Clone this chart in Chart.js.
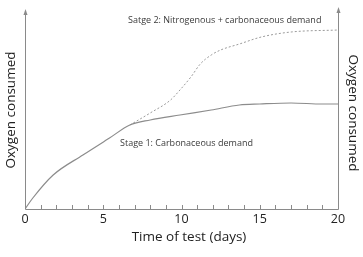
<!DOCTYPE html>
<html>
<head>
<meta charset="utf-8">
<script src="https://cdn.jsdelivr.net/npm/chart.js@4.4.1/dist/chart.umd.min.js"></script>
<style>
	html, body { margin: 0; padding: 0; background: #fff; }
	#wrap { width: 363px; height: 257px; position: relative; }
</style>
</head>
<body>
<div id="wrap"><canvas id="c"></canvas></div>
<script>
// days and oxygen consumed (arbitrary units)
var stage1Days = [0, 0.5, 1.8, 3.7, 5.4, 6.7, 8, 9.9, 11.9, 13.7, 15, 17, 19, 20];
var stage1Oxygen = [0, 11, 34, 54, 71, 84, 89, 94, 99, 104, 105, 106, 105, 105];

var stage2Days = [6.7, 8, 9.3, 9.9, 10.6, 11.2, 11.9, 12.5, 13.7, 15.1, 17, 20];
var stage2Oxygen = [84, 96, 109, 119, 132, 145, 154, 159, 165, 172, 177, 179];

var xTickLabels = [0, 5, 10, 15, 20];
var stage1Label = 'Stage 1: Carbonaceous demand';
var stage2Label = 'Satge 2: Nitrogenous + carbonaceous demand';
var xTitle = 'Time of test (days)';
var yTitle = 'Oxygen consumed';

var toPoints = function(xs, ys){
	var pts = [];
	for (var i = 0; i < xs.length; i++) {
		pts.push({x: xs[i], y: ys[i]});
	};
	return pts;
}

var FONT = '"Open Sans", "DejaVu Sans", sans-serif';
var AXIS = '#8a8a8a';
var TEXT = '#3a3a3a';

var axesPlugin = {
	id: 'axesPlugin',
	afterDraw: function(chart){
		var ctx = chart.ctx;
		var xs = chart.scales.x, ys = chart.scales.y;
		var left = xs.getPixelForValue(0);
		var right = xs.getPixelForValue(20);
		var bottom = ys.getPixelForValue(0);
		var top = ys.getPixelForValue(197);

		ctx.save();
		ctx.strokeStyle = AXIS;
		ctx.fillStyle = AXIS;
		ctx.lineWidth = 1;

		// axis lines
		ctx.beginPath();
		ctx.moveTo(left + 0.5, top);
		ctx.lineTo(left + 0.5, bottom + 0.5);
		ctx.lineTo(right + 0.5, bottom + 0.5);
		ctx.lineTo(right + 0.5, top - 2);
		ctx.stroke();

		// arrow heads
		var arrow = function(x, y){
			ctx.beginPath();
			ctx.moveTo(x + 0.5, y - 3);
			ctx.lineTo(x - 1.5, y + 3);
			ctx.lineTo(x + 2.5, y + 3);
			ctx.closePath();
			ctx.fill();
		}
		arrow(left, top);
		arrow(right, top - 2);

		// minor ticks pointing inward
		ctx.beginPath();
		for (var d = 1; d < 20; d++) {
			var px = Math.round(xs.getPixelForValue(d)) + 0.5;
			ctx.moveTo(px, bottom);
			ctx.lineTo(px, bottom - 4);
		};
		ctx.stroke();

		// tick labels
		ctx.fillStyle = '#222';
		ctx.font = '12.5px ' + FONT;
		ctx.textAlign = 'center';
		ctx.textBaseline = 'middle';
		xTickLabels.forEach(function(v){
			ctx.fillText(String(v), xs.getPixelForValue(v), bottom + 10);
		});

		// titles
		ctx.font = '13.5px ' + FONT;
		ctx.fillText(xTitle, 189, bottom + 28);

		ctx.save();
		ctx.translate(11, 110);
		ctx.rotate(-Math.PI / 2);
		ctx.fillText(yTitle, 0, 0);
		ctx.restore();

		ctx.save();
		ctx.translate(353, 113);
		ctx.rotate(Math.PI / 2);
		ctx.fillText(yTitle, 0, 0);
		ctx.restore();

		// annotations
		ctx.fillStyle = TEXT;
		ctx.font = '9px ' + FONT;
		ctx.textAlign = 'left';
		ctx.fillText(stage2Label, 128, 20);
		ctx.fillText(stage1Label, 120, 143);

		ctx.restore();
	}
}

new Chart(document.getElementById('c'), {
	type: 'line',
	data: {
		datasets: [
			{
				data: toPoints(stage1Days, stage1Oxygen),
				borderColor: '#8c8c8c',
				borderWidth: 1.2,
				pointRadius: 0,
				cubicInterpolationMode: 'monotone'
			},
			{
				data: toPoints(stage2Days, stage2Oxygen),
				borderColor: '#9a9a9a',
				borderWidth: 1,
				borderDash: [2, 2],
				pointRadius: 0,
				cubicInterpolationMode: 'monotone'
			}
		]
	},
	options: {
		responsive: true,
		maintainAspectRatio: false,
		animation: false,
		layout: { padding: { left: 25, right: 25, top: 12, bottom: 48 } },
		plugins: { legend: { display: false }, tooltip: { enabled: false } },
		scales: {
			x: { type: 'linear', min: 0, max: 20, display: false },
			y: { type: 'linear', min: 0, max: 197, display: false }
		}
	},
	plugins: [axesPlugin]
});
</script>
</body>
</html>
